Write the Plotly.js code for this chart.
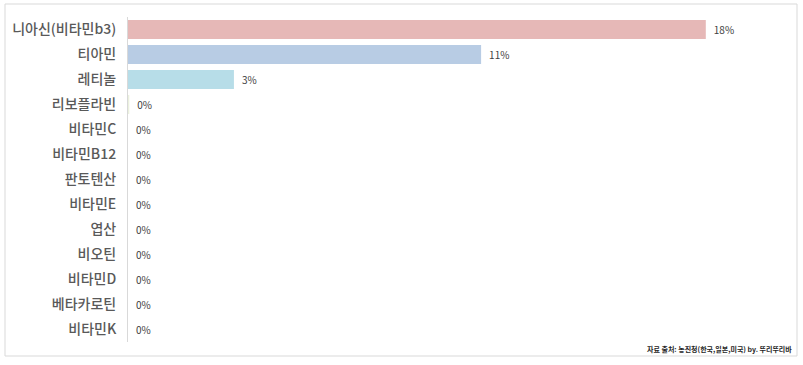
<!DOCTYPE html>
<html><head><meta charset="utf-8">
<script src="https://cdn.plot.ly/plotly-3.0.1.min.js"></script>
<style>html,body{margin:0;padding:0;background:#fff}#c{width:803px;height:365px}</style>
</head><body><div id="c"></div>
<script>
const categories = ["니아신(비타민b3)","티아민","레티놀","리보플라빈","비타민C","비타민B12","판토텐산","비타민E","엽산","비오틴","비타민D","베타카로틴","비타민K"];
const values = [18.0, 11.0, 3.3, 0.04, 0, 0, 0, 0, 0, 0, 0, 0, 0];
const labels = ["18%","11%","3%","0%","0%","0%","0%","0%","0%","0%","0%","0%","0%"];
const colors = ["#e6b8b7","#b8cce4","#b7dde8","#ebf1de","#fde9d9","#e4dfec","#dce6f1","#f2dcdb","#daeef3","#fdeada","#ebf1de","#e4dfec","#dce6f1"];
const sourceText = "자료 출처: 농진청(한국,일본,미국) by. 뚜리뚜리바";

const L = 128, R = 33, T = 17, B = 23, W = 803, H = 365;
const pw = W - L - R, ph = H - T - B;
const px = v => (v - L) / pw;
const py = v => (H - B - v) / ph;

const trace = {
  type: "bar", orientation: "h",
  y: categories, x: values,
  text: labels.map(s => "\u2002" + s), textposition: "outside", cliponaxis: false,
  textfont: {family: "Noto Sans CJK KR, Noto Sans, sans-serif", size: 10, color: "#404040"},
  marker: {color: colors},
  hoverinfo: "none"
};
const layout = {
  width: W, height: H,
  margin: {l: L, r: R, t: T, b: B, pad: 0},
  paper_bgcolor: "#fff", plot_bgcolor: "#fff",
  showlegend: false,
  bargap: 0.24,
  font: {family: "Noto Sans CJK KR, Noto Sans, sans-serif"},
  xaxis: {range: [0, 20], visible: false, fixedrange: true},
  yaxis: {
    autorange: "reversed", showline: true, linecolor: "#d9d9d9", linewidth: 1,
    ticks: "", showgrid: false, zeroline: false, ticklabelstandoff: 8,
    tickfont: {family: "Noto Sans CJK KR, Noto Sans, sans-serif", size: 14, color: "#595959", weight: 500}
  },
  shapes: [{
    type: "rect", xref: "paper", yref: "paper",
    x0: px(5), x1: px(797), y0: py(356), y1: py(4),
    line: {color: "#d9d9d9", width: 1}, fillcolor: "rgba(0,0,0,0)"
  }],
  annotations: [{
    xref: "paper", yref: "paper", x: px(794), y: py(349),
    xanchor: "right", yanchor: "middle", showarrow: false,
    text: "<b>" + sourceText + "</b>",
    font: {family: "Noto Sans CJK KR, sans-serif", size: 7, color: "#262626"}
  }]
};
Plotly.newPlot("c", [trace], layout, {displayModeBar: false, staticPlot: true});
</script></body></html>
